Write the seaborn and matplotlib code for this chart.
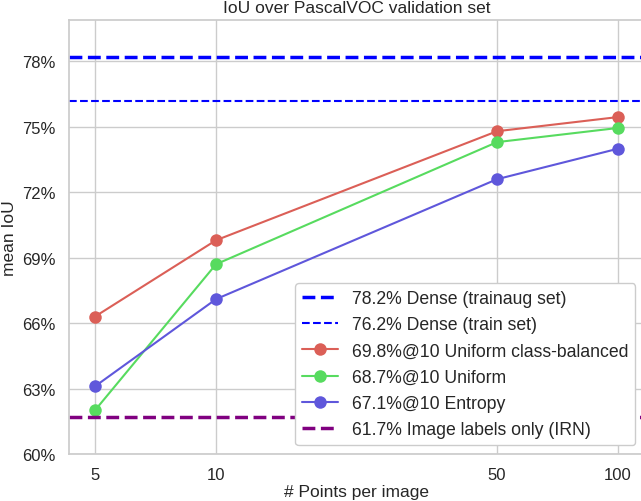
import matplotlib
matplotlib.use("Agg")
import matplotlib.pyplot as plt
import matplotlib.ticker as mticker
import seaborn as sns
import pandas as pd

points = [5, 10, 50, 100]
uniform_cb = [66.3, 69.8, 74.8, 75.45]
uniform = [62.0, 68.7, 74.3, 74.95]
entropy = [63.1, 67.1, 72.6, 74.0]
dense_trainaug = 78.2
dense_train = 76.2
irn = 61.7
yticks = [60, 63, 66, 69, 72, 75, 78]

series = [
    ("69.8%@10 Uniform class-balanced", uniform_cb),
    ("68.7%@10 Uniform", uniform),
    ("67.1%@10 Entropy", entropy),
]

sns.set_theme(style="whitegrid")
plt.rcParams['font.family'] = ['Liberation Sans', 'DejaVu Sans']

fig = plt.figure(figsize=(6.41, 5.02), dpi=100)
ax = fig.add_axes([69/641, 47/502, 575/641, 434/502])

ax.axhline(dense_trainaug, color="blue", ls="--", lw=2.5, label="78.2% Dense (trainaug set)")
ax.axhline(dense_train, color="blue", ls="--", lw=1.5, label="76.2% Dense (train set)")

pal = sns.color_palette("hls", 3)
for (name, vals), c in zip(series, pal):
    df = pd.DataFrame({"points": points, "iou": vals})
    sns.lineplot(data=df, x="points", y="iou", ax=ax, color=c, marker="o",
                 markersize=9, markeredgewidth=0, lw=1.5, label=name)

ax.axhline(irn, color="purple", ls="--", lw=2.5, label="61.7% Image labels only (IRN)")

ax.set_xscale("log")
ax.set_xlim(4.31, 116)
ax.set_ylim(60, 79.9)
ax.set_xticks(points)
ax.xaxis.set_major_formatter(mticker.ScalarFormatter())
ax.xaxis.set_minor_locator(mticker.NullLocator())
ax.set_yticks(yticks)
ax.set_yticklabels([f"{v}%" for v in yticks])
ax.tick_params(labelsize=12)

ax.set_title("IoU over PascalVOC validation set", fontsize=12.5)
ax.set_xlabel("# Points per image", fontsize=12.5, labelpad=1)
ax.set_ylabel("mean IoU", fontsize=12.5)

ax.legend(loc="lower right", fontsize=12.7, framealpha=1.0, labelspacing=0.52)

fig.savefig("out.png", dpi=100)
